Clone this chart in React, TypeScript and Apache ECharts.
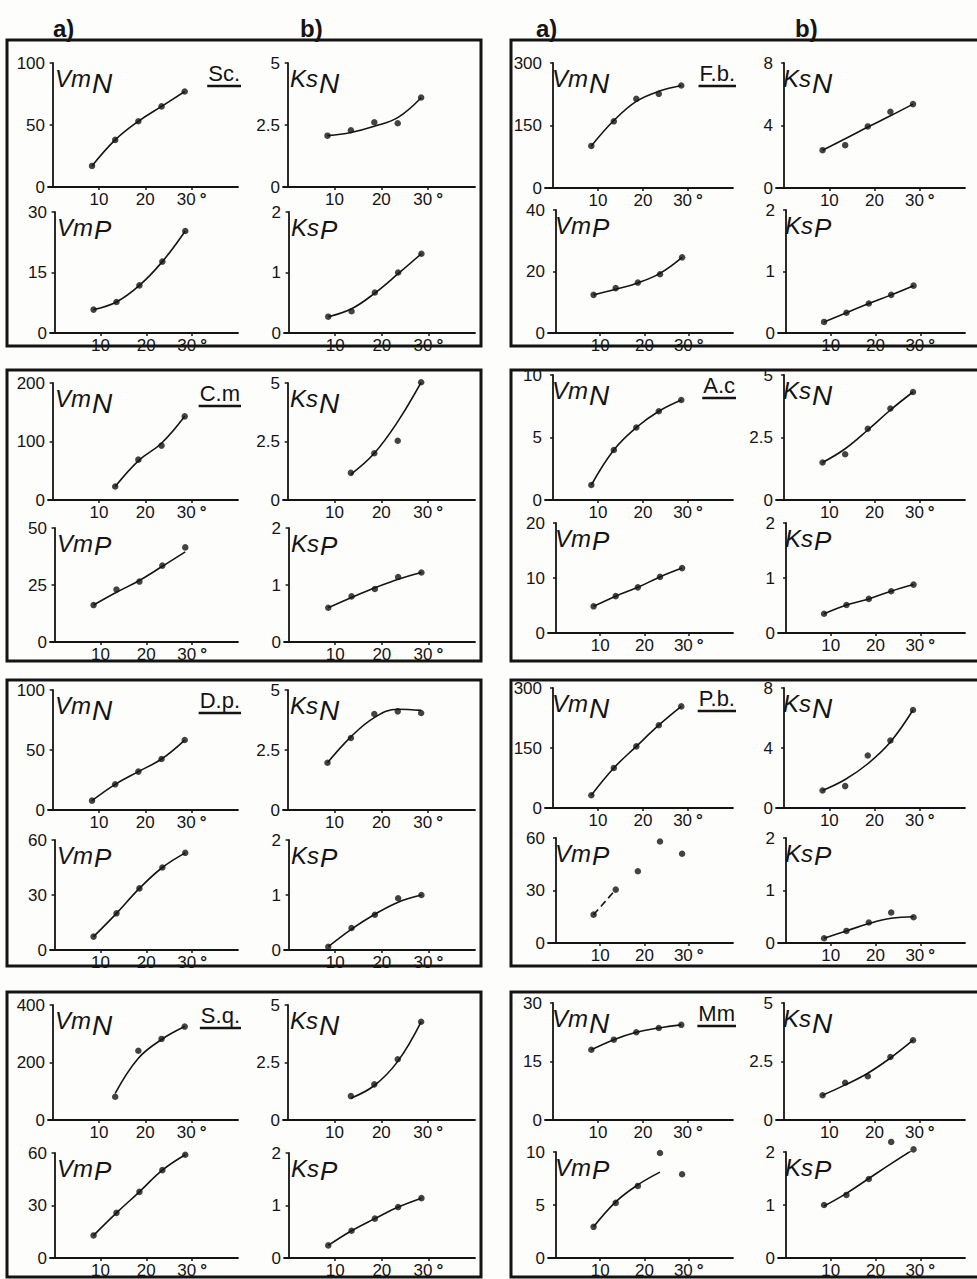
import React, { useEffect, useRef } from "react";
import * as echarts from "echarts";

// ---------- DATA ----------
const temps = [8.5, 13.5, 18.5, 23.5, 28.5];
const tempsFrom13 = [13.5, 18.5, 23.5, 28.5];
const xTickValues = [10, 20, 30];

const speciesNames = ["Sc.", "F.b.", "C.m", "A.c", "D.p.", "P.b.", "S.q.", "Mm"];
const vmNMax = [100, 300, 200, 10, 100, 300, 400, 30];
const ksNMax = [5, 8, 5, 5, 5, 8, 5, 5];
const vmPMax = [30, 40, 50, 20, 60, 60, 60, 10];
const ksPMax = [2, 2, 2, 2, 2, 2, 2, 2];

// Sc.
const scVmN = [17, 38, 53, 65, 77];
const scKsN = [2.07, 2.29, 2.61, 2.57, 3.61];
const scKsNFit = [2.07, 2.2, 2.45, 2.8, 3.6];
const scVmP = [5.8, 7.7, 11.8, 17.7, 25.3];
const scKsP = [0.27, 0.36, 0.67, 1.0, 1.31];
const scKsPFit = [0.27, 0.4, 0.66, 0.98, 1.31];
// F.b.
const fbVmN = [101, 160, 214, 226, 246];
const fbVmNFit = [101, 162, 208, 232, 246];
const fbKsN = [2.42, 2.74, 3.94, 4.88, 5.37];
const fbKsNFit = [2.42, 3.15, 3.9, 4.62, 5.37];
const fbVmP = [12.4, 14.6, 16.4, 19.1, 24.6];
const fbVmPFit = [12.4, 14.2, 16.3, 19.4, 24.6];
const fbKsP = [0.18, 0.33, 0.48, 0.62, 0.77];
// C.m
const cmVmN = [23, 69, 93, 143];
const cmVmNFit = [23, 67, 97, 143];
const cmKsN = [1.16, 2.0, 2.53, 5.03];
const cmKsNFit = [1.1, 2.0, 3.35, 5.03];
const cmVmP = [16.2, 23, 26.5, 33.5, 41.5];
const cmVmPFit = [16.2, 21.8, 27, 33.2, 39.5];
const cmKsP = [0.6, 0.8, 0.93, 1.14, 1.22];
const cmKsPFit = [0.6, 0.78, 0.95, 1.1, 1.22];
// A.c
const acVmN = [1.2, 4.0, 5.8, 7.1, 8.0];
const acKsN = [1.5, 1.83, 2.85, 3.66, 4.32];
const acKsNFit = [1.5, 2.05, 2.8, 3.6, 4.32];
const acVmP = [4.85, 6.7, 8.3, 10.2, 11.8];
const acKsP = [0.35, 0.51, 0.62, 0.76, 0.88];
// D.p.
const dpVmN = [7.8, 21.4, 32, 42.5, 58.3];
const dpKsN = [1.97, 3.0, 4.0, 4.11, 4.04];
const dpKsNFit = [1.97, 3.05, 3.85, 4.2, 4.15];
const dpVmP = [7.3, 20, 33.6, 45, 53];
const dpKsP = [0.06, 0.4, 0.64, 0.94, 1.0];
const dpKsPFit = [0.06, 0.38, 0.65, 0.87, 1.0];
// P.b.
const pbVmN = [32, 100, 154, 207, 254];
const pbKsN = [1.17, 1.46, 3.5, 4.5, 6.53];
const pbKsNFit = [1.17, 1.9, 2.95, 4.4, 6.53];
const pbVmP = [16.2, 30.5, 41, 58, 51];
const pbVmPFit = [16.2, 30.5, null, null, null];
const pbKsP = [0.09, 0.23, 0.39, 0.58, 0.49];
const pbKsPFit = [0.09, 0.23, 0.37, 0.47, 0.5];
// S.q.
const sqVmN = [81, 241, 282, 325];
const sqVmNFit = [93, 215, 280, 325];
const sqKsN = [1.04, 1.55, 2.64, 4.27];
const sqKsNFit = [0.95, 1.5, 2.55, 4.27];
const sqVmP = [12.9, 25.8, 37.8, 50.2, 59];
const sqKsP = [0.24, 0.52, 0.75, 0.97, 1.14];
// Mm
const mmVmN = [18, 20.6, 22.5, 23.6, 24.4];
const mmKsN = [1.06, 1.59, 1.87, 2.69, 3.41];
const mmKsNFit = [1.06, 1.5, 2.0, 2.65, 3.41];
const mmVmP = [2.94, 5.2, 6.8, 9.9, 7.9];
const mmVmPFit = [2.94, 5.3, 6.9, 8.1, null];
const mmKsP = [1.0, 1.19, 1.49, 2.19, 2.05];
const mmKsPFit = [0.98, 1.22, 1.5, 1.78, 2.05];

// ---------- TABLE ----------
type Sub = {
  main: string;
  sub: string;
  xs: number[];
  pts: number[];
  fit: (number | null)[];
  max: number;
  dashed?: boolean;
};

const mk = (
  i: number,
  xsN: number[],
  vmN: number[], vmNFit: (number | null)[],
  ksN: number[], ksNFit: (number | null)[],
  vmP: number[], vmPFit: (number | null)[],
  ksP: number[], ksPFit: (number | null)[],
  dashVmP = false
): Sub[] => [
  { main: "Vm", sub: "N", xs: xsN, pts: vmN, fit: vmNFit, max: vmNMax[i] },
  { main: "Ks", sub: "N", xs: xsN, pts: ksN, fit: ksNFit, max: ksNMax[i] },
  { main: "Vm", sub: "P", xs: temps, pts: vmP, fit: vmPFit, max: vmPMax[i], dashed: dashVmP },
  { main: "Ks", sub: "P", xs: temps, pts: ksP, fit: ksPFit, max: ksPMax[i] },
];

const panels: Sub[][] = [
  mk(0, temps, scVmN, scVmN, scKsN, scKsNFit, scVmP, scVmP, scKsP, scKsPFit),
  mk(1, temps, fbVmN, fbVmNFit, fbKsN, fbKsNFit, fbVmP, fbVmPFit, fbKsP, fbKsP),
  mk(2, tempsFrom13, cmVmN, cmVmNFit, cmKsN, cmKsNFit, cmVmP, cmVmPFit, cmKsP, cmKsPFit),
  mk(3, temps, acVmN, acVmN, acKsN, acKsNFit, acVmP, acVmP, acKsP, acKsP),
  mk(4, temps, dpVmN, dpVmN, dpKsN, dpKsNFit, dpVmP, dpVmP, dpKsP, dpKsPFit),
  mk(5, temps, pbVmN, pbVmN, pbKsN, pbKsNFit, pbVmP, pbVmPFit, pbKsP, pbKsPFit, true),
  mk(6, tempsFrom13, sqVmN, sqVmNFit, sqKsN, sqKsNFit, sqVmP, sqVmP, sqKsP, sqKsP),
  mk(7, temps, mmVmN, mmVmN, mmKsN, mmKsNFit, mmVmP, mmVmPFit, mmKsP, mmKsPFit),
];

// ---------- LAYOUT ----------
const INK = "#141414";
const NUM_FONT = "'Liberation Sans', 'DejaVu Sans', sans-serif";
const colLayout = [
  { boxL: 7, boxR: 481, aL: 48, aL2: 50, aR: 238, bL: 283, bL2: 284, bR: 475, xMin: -1, heads: [53, 300] },
  { boxL: 511, boxR: 984, aL: 545, aL2: 548, aR: 733, bL: 776, bL2: 778, bR: 965, xMin: -1.8, heads: [536, 795] },
];
const rowLayout = [
  [[63, 187, 212, 333], [63, 188, 210, 333]],
  [[383, 500, 528, 642], [375, 500, 523, 633]],
  [[690, 810, 840, 950], [688, 808, 838, 943]],
  [[1005, 1120, 1153, 1262], [1003, 1120, 1152, 1262]],
];
const boxY = [[40, 346], [370, 661], [680, 966], [992, 1277]];

function measure(text: string, font: string): number {
  const c = document.createElement("canvas").getContext("2d");
  if (!c) return text.length * 12;
  c.font = font;
  return c.measureText(text).width;
}

function buildOption() {
  const grid: any[] = [];
  const xAxis: any[] = [];
  const yAxis: any[] = [];
  const series: any[] = [];
  const graphic: any[] = [];

  panels.forEach((subs, p) => {
    const col = p % 2;
    const row = Math.floor(p / 2);
    const cl = colLayout[col];
    const rl = rowLayout[row][col];
    const [by0, by1] = boxY[row];

    graphic.push({
      type: "rect",
      shape: { x: cl.boxL, y: by0, width: cl.boxR - cl.boxL, height: by1 - by0 },
      style: { fill: "none", stroke: INK, lineWidth: 3 },
    });

    subs.forEach((s, k) => {
      const isTop = k < 2;
      const isLeft = k % 2 === 0;
      const left = isLeft ? (isTop ? cl.aL : cl.aL2) : (isTop ? cl.bL : cl.bL2);
      const right = isLeft ? cl.aR : cl.bR;
      const top = isTop ? rl[0] : rl[2];
      const bottom = isTop ? rl[1] : rl[3];
      const gi = grid.length;
      grid.push({ left, top, width: right - left, height: bottom - top });
      xAxis.push({
        type: "value",
        gridIndex: gi,
        min: cl.xMin,
        max: 40,
        axisLine: { show: true, onZero: false, lineStyle: { color: INK, width: 1.8 } },
        axisTick: { show: true, customValues: xTickValues, length: 3, lineStyle: { color: INK, width: 1.5 } },
        axisLabel: {
          customValues: xTickValues,
          color: INK,
          fontSize: 17,
          fontFamily: NUM_FONT,
          margin: 4,
          formatter: (v: number) => (v === 30 ? "{n|30}{d|°}" : String(v)),
          rich: {
            n: { fontSize: 17, fontFamily: NUM_FONT, color: INK },
            d: { fontSize: 17, fontWeight: "bold", fontFamily: NUM_FONT, color: INK, padding: [0, 0, 0, 4] },
          },
        },
        splitLine: { show: false },
      });
      yAxis.push({
        type: "value",
        gridIndex: gi,
        min: 0,
        max: s.max,
        interval: s.max / 2,
        axisLine: { show: true, lineStyle: { color: INK, width: 1.8 } },
        axisTick: { show: true, length: 3, lineStyle: { color: INK, width: 1.5 } },
        axisLabel: { color: INK, fontSize: 17, fontFamily: NUM_FONT, margin: 3 },
        splitLine: { show: false },
      });
      const fitData = s.xs
        .map((x, i) => [x, s.fit[i]])
        .filter((d) => d[1] !== null && d[1] !== undefined);
      series.push({
        type: "line",
        xAxisIndex: gi,
        yAxisIndex: gi,
        data: fitData,
        smooth: 0.4,
        symbol: "none",
        silent: true,
        lineStyle: { color: INK, width: 1.6, type: s.dashed ? [7, 4] : "solid" },
      });
      series.push({
        type: "scatter",
        xAxisIndex: gi,
        yAxisIndex: gi,
        data: s.xs.map((x, i) => [x, s.pts[i]]),
        symbol: "circle",
        symbolSize: 6.5,
        clip: false,
        silent: true,
        itemStyle: { color: INK },
      });

      // subplot title e.g. Vm_N
      const tx = left + 7;
      const ty = top + 3;
      const mainFont = "italic 24px 'Liberation Sans'";
      const w = measure(s.main, mainFont);
      graphic.push({
        type: "text",
        x: tx,
        y: ty,
        style: { text: s.main, font: mainFont, fill: INK, textVerticalAlign: "top" },
      });
      graphic.push({
        type: "text",
        x: tx + w + 1,
        y: ty + (s.sub === "N" ? 3 : 2),
        style: {
          text: s.sub,
          font: s.sub === "N" ? "italic 28px 'Liberation Sans'" : "italic 26px 'Liberation Sans'",
          fill: INK,
          textVerticalAlign: "top",
        },
      });

      if (k === 0) {
        const spFont = "22px 'Liberation Sans'";
        const name = speciesNames[p];
        const sw = measure(name, spFont);
        const rx = right + 2;
        graphic.push({
          type: "text",
          x: rx,
          y: top - 1,
          style: { text: name, font: spFont, fill: INK, textAlign: "right", textVerticalAlign: "top" },
        });
        graphic.push({
          type: "line",
          shape: { x1: rx - sw - 1, y1: top + 23, x2: rx + 1, y2: top + 23 },
          style: { stroke: INK, lineWidth: 2.5 },
        });
      }
    });

    if (row === 0) {
      ["a)", "b)"].forEach((h, hi) => {
        graphic.push({
          type: "text",
          x: cl.heads[hi],
          y: 16,
          style: { text: h, font: "bold 24px 'Liberation Sans'", fill: INK, textVerticalAlign: "top" },
        });
      });
    }
  });

  return {
    animation: false,
    backgroundColor: "#fdfdfb",
    grid,
    xAxis,
    yAxis,
    series,
    graphic: { elements: graphic },
  };
}

export default function App() {
  const ref = useRef<HTMLDivElement>(null);
  useEffect(() => {
    if (!ref.current) return;
    const chart = echarts.init(ref.current, null, { renderer: "svg" });
    chart.setOption(buildOption() as any);
    return () => chart.dispose();
  }, []);
  return (
    <div
      ref={ref}
      style={{ position: "absolute", left: 0, top: 0, width: 977, height: 1279 }}
    />
  );
}
